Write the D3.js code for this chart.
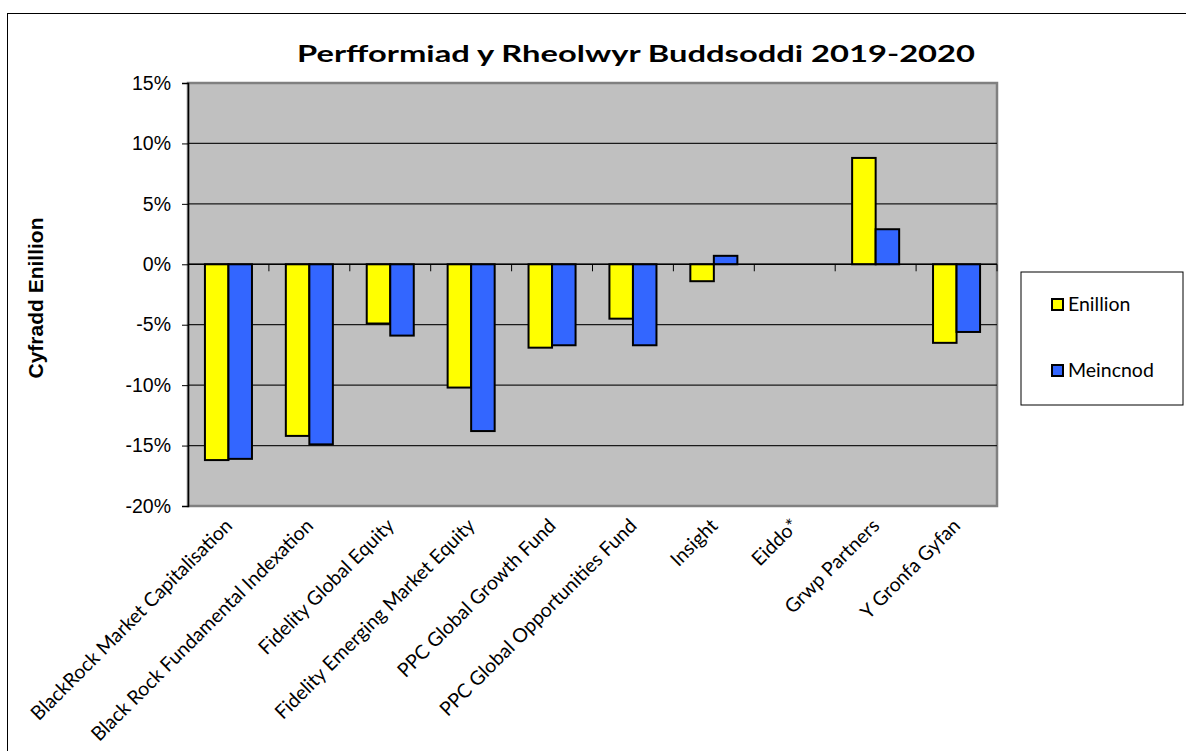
<!DOCTYPE html>
<meta charset="utf-8">
<style>
body { margin: 0; background: #fff; }
.tick-label { font-family: "Liberation Sans", Arial, sans-serif; font-size: 19.5px; fill: #000; }
.cat-label { font-family: Lato, "Open Sans", sans-serif; font-size: 19.5px; fill: #000; }
.legend-label { font-family: Lato, "Open Sans", sans-serif; font-size: 19.5px; fill: #000; }
</style>
<body>
<script src="https://d3js.org/d3.v7.min.js"></script>
<script>

// data (per cent)
var categories = ["BlackRock Market Capitalisation", "Black Rock Fundamental Indexation",
  "Fidelity Global Equity", "Fidelity Emerging Market Equity", "PPC Global Growth Fund",
  "PPC Global Opportunities Fund", "Insight", "Eiddo*", "Grwp Partners", "Y Gronfa Gyfan"];
var enillion = [-16.2, -14.2, -4.9, -10.2, -6.9, -4.5, -1.4, null, 8.8, -6.5];
var meincnod = [-16.1, -14.9, -5.9, -13.8, -6.7, -6.7, 0.7, null, 2.9, -5.6];
var seriesNames = ["Enillion", "Meincnod"];
var seriesColors = ["#ffff00", "#3366ff"];
var yTicks = [-20, -15, -10, -5, 0, 5, 10, 15];

var margin = {top: 83, right: 189, bottom: 245, left: 188},
    width = 1186 - margin.left - margin.right,
    height = 751 - margin.top - margin.bottom;

var svg = d3.select("body").append("svg")
    .attr("width", 1186)
    .attr("height", 751);

// outer frame (runs off the right/bottom edge)
svg.append("rect")
    .attr("x", 7.5).attr("y", 13.5)
    .attr("width", 1300).attr("height", 900)
    .attr("fill", "none").attr("stroke", "#000").attr("stroke-width", 1);

// title
svg.append("text")
    .attr("x", 297).attr("y", 62)
    .attr("textLength", 678)
    .attr("lengthAdjust", "spacingAndGlyphs")
    .style("font-family", "Lato, 'Open Sans', sans-serif")
    .style("font-weight", "bold")
    .style("font-size", "23px")
    .text("Perfformiad y Rheolwyr Buddsoddi 2019-2020");

// y axis title
svg.append("text")
    .attr("transform", "translate(43,298) rotate(-90)")
    .attr("text-anchor", "middle")
    .style("font-family", "'Liberation Sans', Arial, sans-serif")
    .style("font-weight", "bold")
    .style("font-size", "21px")
    .text("Cyfradd Enillion");

var g = svg.append("g")
    .attr("transform", "translate(" + margin.left + "," + margin.top + ")");

// scales
var x = d3.scaleBand().domain(categories).range([0, width]);
var xs = d3.scaleBand().domain(seriesNames).range([0, x.bandwidth()]).paddingOuter(0.72);
var y = d3.scaleLinear().domain([-20, 15]).range([height, 0]);

// plot area
g.append("rect")
    .attr("width", width).attr("height", height)
    .attr("fill", "#c0c0c0")
    .attr("stroke", "#808080").attr("stroke-width", 2.5);

// gridlines
g.selectAll(".grid")
    .data(yTicks.filter(function(d) { return d > -20 && d < 15; }))
  .enter().append("line")
    .attr("x1", 0).attr("x2", width)
    .attr("y1", function(d) { return y(d); })
    .attr("y2", function(d) { return y(d); })
    .attr("stroke", "#1a1a1a").attr("stroke-width", 1.3);

// y axis
var yAxis = g.append("g")
    .call(d3.axisLeft(y).tickValues(yTicks).tickSize(6).tickPadding(11)
      .tickFormat(function(d) { return d + "%"; }));
yAxis.select(".domain").attr("stroke", "#000").attr("stroke-width", 1.5);
yAxis.selectAll("line").attr("stroke", "#000");
yAxis.selectAll("text").attr("class", "tick-label").attr("font-size", null).attr("font-family", null);

// bars
var rows = categories.map(function(c, i) { return {cat: c, vals: [enillion[i], meincnod[i]]}; });
var groups = g.selectAll(".grp")
    .data(rows)
  .enter().append("g")
    .attr("transform", function(d) { return "translate(" + x(d.cat) + ",0)"; });

groups.selectAll("rect")
    .data(function(d) {
      return d.vals.map(function(v, j) { return {name: seriesNames[j], v: v, j: j}; })
        .filter(function(e) { return e.v !== null; });
    })
  .enter().append("rect")
    .attr("x", function(d) { return xs(d.name); })
    .attr("width", xs.bandwidth())
    .attr("y", function(d) { return y(Math.max(0, d.v)); })
    .attr("height", function(d) { return Math.abs(y(d.v) - y(0)); })
    .attr("fill", function(d) { return seriesColors[d.j]; })
    .attr("stroke", "#000").attr("stroke-width", 2);

// x axis along zero line with ticks between categories
g.append("line")
    .attr("x1", 0).attr("x2", width)
    .attr("y1", y(0)).attr("y2", y(0))
    .attr("stroke", "#000").attr("stroke-width", 1.5);
g.selectAll(".xtick")
    .data(categories.slice(1).concat(["end"]))
  .enter().append("line")
    .attr("x1", function(d, i) { return x.step() * (i + 1); })
    .attr("x2", function(d, i) { return x.step() * (i + 1); })
    .attr("y1", y(0)).attr("y2", y(0) + 7)
    .attr("stroke", "#000").attr("stroke-width", 1);

// category labels, rotated
g.selectAll(".cat-label")
    .data(categories)
  .enter().append("text")
    .attr("class", "cat-label")
    .attr("text-anchor", "end")
    .attr("transform", function(d) {
      return "translate(" + (x(d) + x.bandwidth() / 2 + 5) + "," + (height + 21) + ") rotate(-45)";
    })
    .text(function(d) { return d; });

// legend
var legend = svg.append("g").attr("transform", "translate(1021,272)");
legend.append("rect")
    .attr("width", 162).attr("height", 133)
    .attr("fill", "#fff").attr("stroke", "#000").attr("stroke-width", 1);
var li = legend.selectAll(".li")
    .data(seriesNames)
  .enter().append("g")
    .attr("transform", function(d, i) { return "translate(31," + (32 + i * 66) + ")"; });
li.append("rect")
    .attr("x", 0).attr("y", -5).attr("width", 11).attr("height", 11)
    .attr("fill", function(d, i) { return seriesColors[i]; })
    .attr("stroke", "#000").attr("stroke-width", 2);
li.append("text")
    .attr("class", "legend-label")
    .attr("x", 16).attr("dy", "0.35em")
    .text(function(d) { return d; });

</script>
</body>
